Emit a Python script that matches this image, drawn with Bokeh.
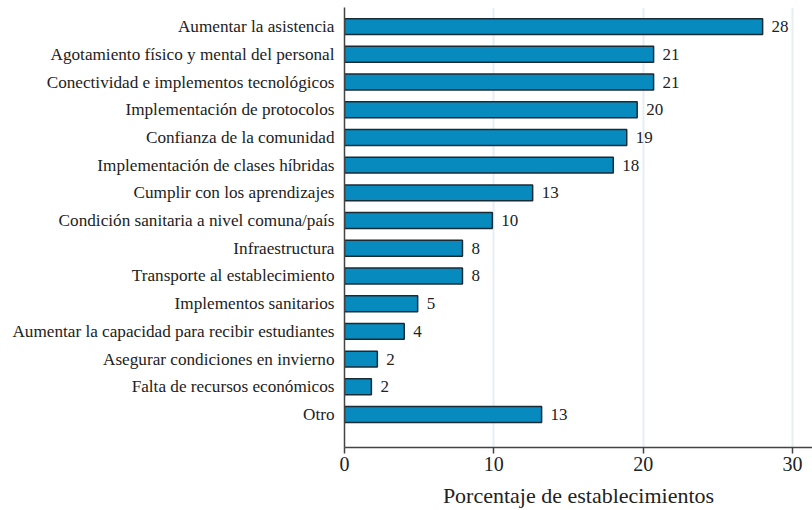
from bokeh.plotting import figure
from bokeh.models import ColumnDataSource, FixedTicker, Range1d
from bokeh.embed import file_html
from bokeh.resources import INLINE
from bokeh.core.properties import value

categories = [
    "Aumentar la asistencia",
    "Agotamiento físico y mental del personal",
    "Conectividad e implementos tecnológicos",
    "Implementación de protocolos",
    "Confianza de la comunidad",
    "Implementación de clases híbridas",
    "Cumplir con los aprendizajes",
    "Condición sanitaria a nivel comuna/país",
    "Infraestructura",
    "Transporte al establecimiento",
    "Implementos sanitarios",
    "Aumentar la capacidad para recibir estudiantes",
    "Asegurar condiciones en invierno",
    "Falta de recursos económicos",
    "Otro",
]
percentages = [28.0, 20.7, 20.7, 19.6, 18.9, 18.0, 12.6, 9.9, 7.9, 7.9, 4.9, 4.0, 2.2, 1.8, 13.2]
x_ticks = [0, 10, 20, 30]
x_title = "Porcentaje de establecimientos"

n = len(categories)
ypos = [n - 1 - i for i in range(n)]
labels = [f"{v:.0f}" for v in percentages]

src = ColumnDataSource(dict(y=ypos, v=percentages, lab=labels, cat=categories))

FONT = "Liberation Serif"

p = figure(width=812, height=510, output_backend="svg", toolbar_location=None,
           x_range=Range1d(0, 31.34), y_range=Range1d(-1.19, n - 1 + 0.69),
           min_border_left=344, min_border_right=0, min_border_top=7, min_border_bottom=62)
p.outline_line_color = None
p.background_fill_color = "white"

p.hbar(y="y", right="v", left=0, height=0.575, source=src,
       fill_color="#078bbf", line_color="#1b2b36", line_width=1.5)

p.text(x="v", y="y", text="lab", source=src, x_offset=9,
       text_font=value(FONT), text_font_size="17px", text_color="#222222",
       text_baseline="middle", text_align="left")

# x axis
p.xaxis.ticker = FixedTicker(ticks=x_ticks)
p.xaxis.axis_label = x_title
p.xaxis.axis_label_text_font = FONT
p.xaxis.axis_label_text_font_style = "normal"
p.xaxis.axis_label_text_font_size = "22px"
p.xaxis.axis_label_text_color = "#222222"
p.xaxis.axis_label_standoff = 9
p.xaxis.major_label_text_font = FONT
p.xaxis.major_label_text_font_size = "20px"
p.xaxis.major_label_text_color = "#222222"
p.xaxis.major_label_standoff = 3
p.xaxis.major_tick_out = 6
p.xaxis.major_tick_in = 0
p.xaxis.minor_tick_line_color = None
p.xaxis.axis_line_color = "#444444"
p.xaxis.axis_line_width = 1.5
p.xaxis.major_tick_line_color = "#444444"
p.xaxis.major_tick_line_width = 1.5

# y axis
p.yaxis.ticker = FixedTicker(ticks=ypos)
p.yaxis.major_label_overrides = {y: c for y, c in zip(ypos, categories)}
p.yaxis.major_label_text_font = FONT
p.yaxis.major_label_text_font_size = "17.2px"
p.yaxis.major_label_text_color = "#222222"
p.yaxis.major_label_standoff = 4
p.yaxis.major_tick_line_color = None
p.yaxis.minor_tick_line_color = None
p.yaxis.axis_line_color = "#444444"
p.yaxis.axis_line_width = 1.5

p.xgrid.ticker = FixedTicker(ticks=x_ticks)
p.xgrid.grid_line_color = "#e6eef2"
p.xgrid.grid_line_width = 2
p.ygrid.grid_line_color = None

open("out.html", "w").write(file_html(p, INLINE))
